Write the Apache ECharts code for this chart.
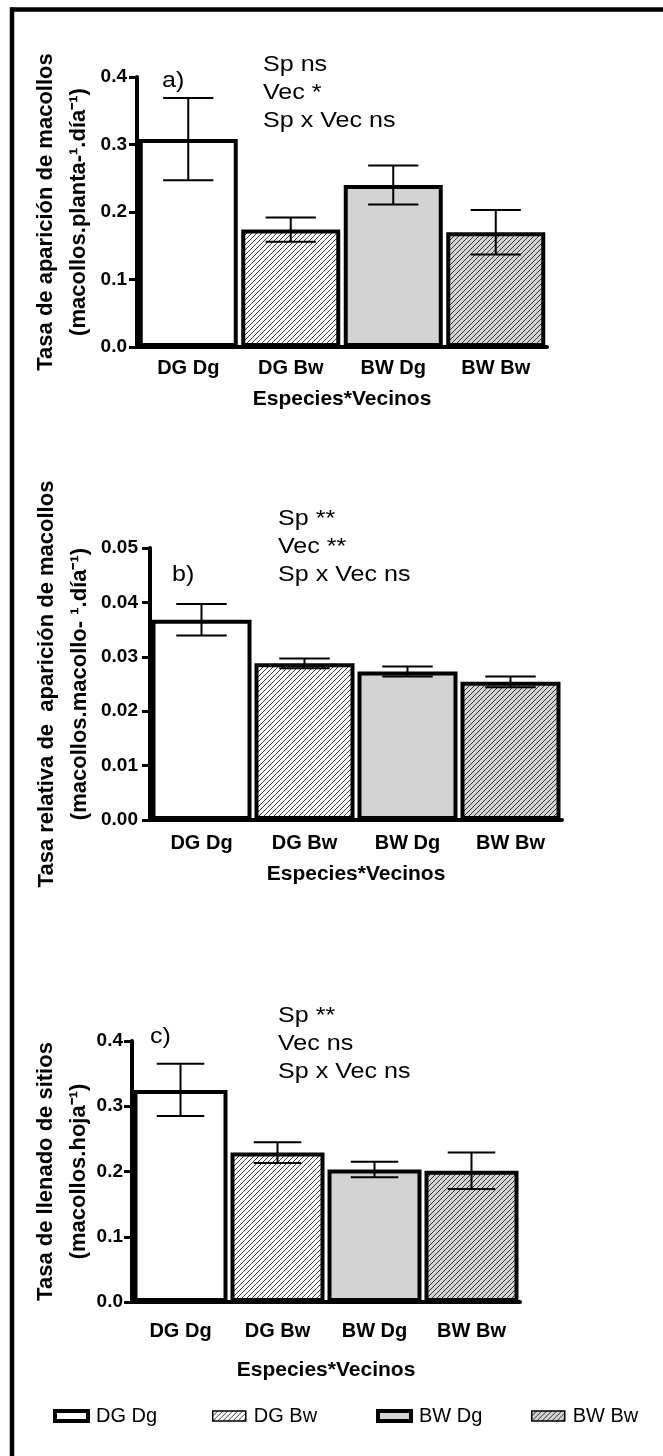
<!DOCTYPE html>
<html>
<head>
<meta charset="utf-8">
<script src="https://cdn.jsdelivr.net/npm/echarts@6/dist/echarts.min.js"></script>
<style>
  html, body { margin: 0; padding: 0; background: #fff; }
  #chart { width: 663px; height: 1456px; }
</style>
</head>
<body>
<div id="chart"></div>
<script>
// Treatment combinations (species * neighbour)
const categories = ['DG Dg', 'DG Bw', 'BW Dg', 'BW Bw'];

// a) Tiller appearance rate: means and standard errors
const rateMeans = [0.308, 0.174, 0.240, 0.170];
const rateErrors = [0.061, 0.018, 0.029, 0.033];

// b) Relative tiller appearance rate
const relMeans = [0.0368, 0.0288, 0.0273, 0.0254];
const relErrors = [0.0029, 0.0009, 0.0009, 0.0010];

// c) Site filling rate
const siteMeans = [0.325, 0.229, 0.203, 0.201];
const siteErrors = [0.040, 0.016, 0.012, 0.028];

// Significance summaries per panel
const statsA = ['Sp ns', 'Vec *', 'Sp x Vec ns'];
const statsB = ['Sp **', 'Vec **', 'Sp x Vec ns'];
const statsC = ['Sp **', 'Vec ns', 'Sp x Vec ns'];

const FONT = '"Liberation Sans", Arial, Helvetica, sans-serif';
const GRAY = '#d3d3d3';

// Diagonal hatch tile used as a repeating fill
function hatch(bg) {
  const s = 5;
  const c = document.createElement('canvas');
  c.width = s; c.height = s;
  const g = c.getContext('2d');
  g.fillStyle = bg;
  g.fillRect(0, 0, s, s);
  g.strokeStyle = '#222';
  g.lineWidth = 0.9;
  g.beginPath();
  g.moveTo(-1, s + 1); g.lineTo(s + 1, -1);
  g.moveTo(-1, 1); g.lineTo(1, -1);
  g.moveTo(s - 1, s + 1); g.lineTo(s + 1, s - 1);
  g.stroke();
  return c;
}

const fills = [
  '#ffffff',
  { image: hatch('#ffffff'), repeat: 'repeat' },
  GRAY,
  { image: hatch(GRAY), repeat: 'repeat' }
];

const panels = [
  {
    means: rateMeans, errors: rateErrors, max: 0.4, interval: 0.1, digits: 1,
    grid: { left: 137, top: 77, width: 410, height: 270 },
    barWidth: 99, labelMargin: 11, nameGap: 42, yMargin: 10, yNameGap: 42,
    yName: 'Tasa de aparición de macollos\n(macollos.planta-¹.día⁻¹)'
  },
  {
    means: relMeans, errors: relErrors, max: 0.05, interval: 0.01, digits: 2,
    grid: { left: 150, top: 548, width: 412, height: 272 },
    barWidth: 100, labelMargin: 13, nameGap: 44, yMargin: 12, yNameGap: 54,
    yName: 'Tasa relativa de  aparición de macollos\n(macollos.macollo- ¹.día⁻¹)'
  },
  {
    means: siteMeans, errors: siteErrors, max: 0.4, interval: 0.1, digits: 1,
    grid: { left: 132, top: 1041, width: 388, height: 261 },
    barWidth: 94, labelMargin: 19, nameGap: 58, yMargin: 9, yNameGap: 37,
    yName: 'Tasa de llenado de sitios\n(macollos.hoja⁻¹)'
  }
];

const grids = [], xAxes = [], yAxes = [], series = [];

panels.forEach((p, g) => {
  grids.push(p.grid);
  xAxes.push({
    type: 'category', gridIndex: g, data: categories,
    name: 'Especies*Vecinos', nameLocation: 'middle', nameGap: p.nameGap,
    nameMoveOverlap: false,
    nameTextStyle: { fontFamily: FONT, fontSize: 21, fontWeight: 'bold', color: '#000' },
    axisLine: { lineStyle: { color: '#000', width: 4 } },
    axisTick: { alignWithLabel: true, length: 8, lineStyle: { color: '#000', width: 3 } },
    axisLabel: { fontFamily: FONT, fontSize: 20, fontWeight: 'bold', color: '#000', margin: p.labelMargin },
    splitLine: { show: false }
  });
  yAxes.push({
    type: 'value', gridIndex: g, min: 0, max: p.max, interval: p.interval,
    name: p.yName, nameLocation: 'middle', nameGap: p.yNameGap,
    nameMoveOverlap: false,
    nameTextStyle: { fontFamily: FONT, fontSize: 22, fontWeight: 'bold', color: '#000', lineHeight: 33 },
    axisLine: { show: true, lineStyle: { color: '#000', width: 4 } },
    axisTick: { show: true, length: 8, lineStyle: { color: '#000', width: 3 } },
    axisLabel: {
      fontFamily: FONT, fontSize: 19, fontWeight: 'bold', color: '#000', margin: p.yMargin,
      formatter: v => v.toFixed(p.digits)
    },
    splitLine: { show: false }
  });

  categories.forEach((name, i) => {
    series.push({
      type: 'bar', name: name, xAxisIndex: g, yAxisIndex: g,
      data: categories.map((c, j) => (j === i ? p.means[j] : null)),
      barWidth: p.barWidth, barGap: '-100%',
      itemStyle: { color: fills[i], borderColor: '#000', borderWidth: 4 },
      z: 2, silent: true
    });
  });

  series.push({
    type: 'custom', xAxisIndex: g, yAxisIndex: g, z: 5, silent: true,
    data: categories.map((c, j) => [j, p.means[j], p.errors[j]]),
    encode: { x: 0, y: 1 },
    renderItem: (params, api) => {
      const x = api.value(0), m = api.value(1), e = api.value(2);
      const top = api.coord([x, m + e]);
      const bot = api.coord([x, m - e]);
      const half = api.size([1, 0])[0] * 0.245;
      const st = { stroke: '#000', lineWidth: 2 };
      return {
        type: 'group',
        children: [
          { type: 'line', shape: { x1: top[0], y1: top[1], x2: bot[0], y2: bot[1] }, style: st },
          { type: 'line', shape: { x1: top[0] - half, y1: top[1], x2: top[0] + half, y2: top[1] }, style: st },
          { type: 'line', shape: { x1: bot[0] - half, y1: bot[1], x2: bot[0] + half, y2: bot[1] }, style: st }
        ]
      };
    }
  });
});

// Panel letters and significance notes
function note(text, x, y) {
  return {
    type: 'text', x: x, y: y, scaleX: 1.14, silent: true,
    style: { text: text, fontFamily: FONT, fontSize: 22, fill: '#000', verticalAlign: 'middle' }
  };
}
const notes = [
  note('a)', 162, 81), note('b)', 172, 575), note('c)', 150, 1037)
];
[[statsA, 263, 65], [statsB, 278, 519], [statsC, 278, 1016]].forEach(([lines, x, y0]) => {
  lines.forEach((t, k) => notes.push(note(t, x, y0 + k * 28)));
});

// Outer frame (top and left edges)
const frame = [
  { type: 'line', silent: true, shape: { x1: 10, y1: 9.5, x2: 663, y2: 9.5 }, style: { stroke: '#000', lineWidth: 4.5 } },
  { type: 'line', silent: true, shape: { x1: 12, y1: 7.5, x2: 12, y2: 1456 }, style: { stroke: '#000', lineWidth: 4.5 } }
];

// One legend per entry so each sits at its own spot along the bottom row
const legendLefts = [53, 212, 376, 531];
const legendBorders = [4, 1.5, 4, 1.5];
const legends = categories.map((name, i) => ({
  data: [name], left: legendLefts[i], top: 1406, padding: 0,
  selectedMode: false, icon: 'rect', itemWidth: 33, itemHeight: 10,
  itemStyle: { borderColor: '#000', borderWidth: legendBorders[i] },
  textStyle: { fontFamily: FONT, fontSize: 20, color: '#000', padding: [0, 0, 0, 3] }
}));

const chart = echarts.init(document.getElementById('chart'), null, { renderer: 'canvas' });
chart.setOption({
  animation: false,
  backgroundColor: '#fff',
  grid: grids,
  xAxis: xAxes,
  yAxis: yAxes,
  legend: legends,
  series: series,
  graphic: frame.concat(notes)
});
</script>
</body>
</html>
